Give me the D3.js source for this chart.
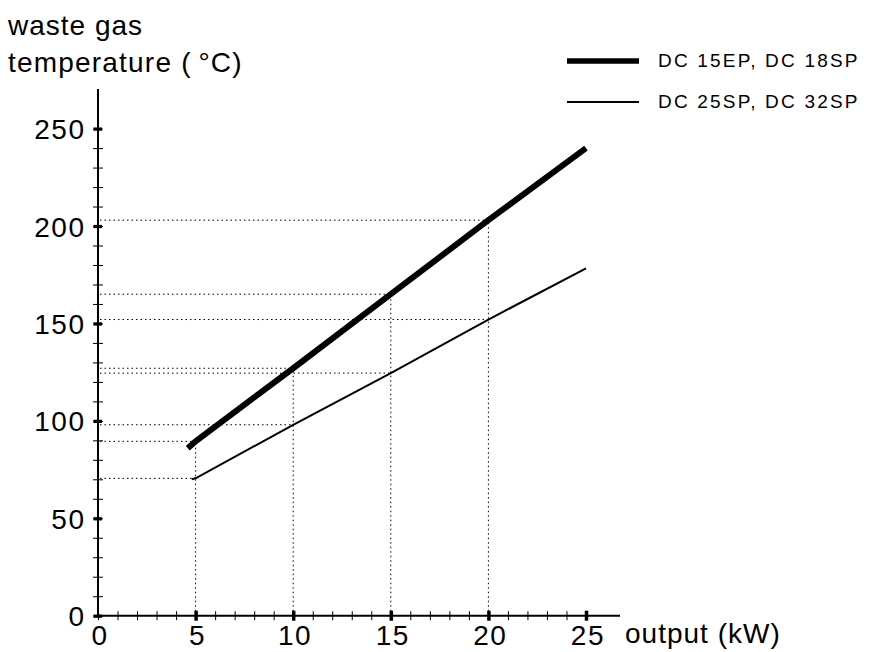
<!DOCTYPE html>
<meta charset="utf-8">
<style>
body { margin: 0; background: #fff; }
text { font-family: 'Liberation Sans', Arial, Helvetica, sans-serif; fill: #000; }
.tick text { font-size: 28px; letter-spacing: 1.5px; }
.dots { stroke: #000; stroke-width: 1; stroke-dasharray: 1.5,3; fill: none; }
</style>
<body>
<svg width="875" height="652"></svg>
<script src="https://d3js.org/d3.v7.min.js"></script>
<script>

// readings at 5, 10, 15, 20 kW
var outputs = [5, 10, 15, 20];
var thickTemps = [89.5, 127, 165, 203];
var thinTemps = [70.5, 98, 124.5, 152];

// full lines (start, readings, end)
var thickLine = [[4.6, 86], [5, 89.5], [10, 127], [15, 165], [20, 203], [25, 240]];
var thinLine = [[4.8, 70], [5, 70.5], [10, 98], [15, 124.5], [20, 152], [25, 178.3]];

var seriesNames = ["DC 15EP, DC 18SP", "DC 25SP, DC 32SP"];
var xTicks = [0, 5, 10, 15, 20, 25];
var yTicks = [0, 50, 100, 150, 200, 250];

var svg = d3.select("svg");

var x = d3.scaleLinear().domain([0, 25]).range([98, 586]),
    y = d3.scaleLinear().domain([0, 250]).range([615.7, 128.6]);

// dotted guide lines
var guides = svg.append("g");
[thickTemps, thinTemps].forEach(function(temps) {
  temps.forEach(function(t, i) {
    guides.append("line").attr("class", "dots")
      .attr("x1", x(0) + 2).attr("x2", x(outputs[i]))
      .attr("y1", y(t)).attr("y2", y(t));
  });
});
outputs.forEach(function(o, i) {
  guides.append("line").attr("class", "dots")
    .attr("x1", x(o)).attr("x2", x(o))
    .attr("y1", y(0)).attr("y2", y(thickTemps[i]));
});

// axes
var yAxisMinor = svg.append("g")
    .attr("transform", "translate(" + x(0) + ",0)")
    .call(d3.axisLeft(y).tickValues(d3.range(0, 251, 10)).tickSize(5).tickFormat(""));
yAxisMinor.select(".domain").remove();
yAxisMinor.selectAll(".tick line").attr("x1", 5).attr("stroke-width", 1);

var yAxis = svg.append("g")
    .attr("transform", "translate(" + x(0) + ",0)")
    .call(d3.axisLeft(y).tickValues(yTicks).tickSize(4.5).tickPadding(8));
yAxis.select(".domain").remove();
yAxis.selectAll(".tick line").attr("x1", 4).attr("stroke-width", 3.3);
yAxis.selectAll(".tick text").attr("dy", "0.36em");

var xAxisMinor = svg.append("g")
    .attr("transform", "translate(0," + y(0) + ")")
    .call(d3.axisBottom(x).tickValues(d3.range(0, 26, 1)).tickSize(4.5).tickFormat(""));
xAxisMinor.select(".domain").remove();
xAxisMinor.selectAll(".tick line").attr("y1", -4.5).attr("stroke-width", 1);

var xAxis = svg.append("g")
    .attr("transform", "translate(0," + y(0) + ")")
    .call(d3.axisBottom(x).tickValues(xTicks).tickSize(5).tickPadding(4));
xAxis.select(".domain").remove();
xAxis.selectAll(".tick line").attr("y1", -5).attr("stroke-width", 3.5)
  .filter(function(d) { return d === 0; }).remove();
xAxis.selectAll(".tick text").attr("dx", "0.05em");

// axis lines
svg.append("line").attr("x1", x(0)).attr("x2", x(0))
  .attr("y1", 89).attr("y2", y(0) + 0.75)
  .attr("stroke", "#000").attr("stroke-width", 2);
svg.append("line").attr("x1", x(0)).attr("x2", 620)
  .attr("y1", y(0)).attr("y2", y(0))
  .attr("stroke", "#000").attr("stroke-width", 2);

// data lines
var line = d3.line().x(d => x(d[0])).y(d => y(d[1]));
svg.append("path").datum(thickLine).attr("d", line)
  .attr("fill", "none").attr("stroke", "#000").attr("stroke-width", 6);
svg.append("path").datum(thinLine).attr("d", line)
  .attr("fill", "none").attr("stroke", "#000").attr("stroke-width", 2);

// titles
svg.append("text").attr("x", 8).attr("y", 35)
  .style("font-size", "28px").style("letter-spacing", "1px").text("waste gas");
svg.append("text").attr("x", 8).attr("y", 72)
  .style("font-size", "28px").style("letter-spacing", "1.2px").text("temperature (\u2009\u00B0C)");
svg.append("text").attr("x", 625).attr("y", 643)
  .style("font-size", "28px").style("letter-spacing", "1px").text("output (kW)");

// legend
var legend = svg.append("g");
[5.5, 2].forEach(function(w, i) {
  var ly = 61 + i * 41;
  legend.append("line").attr("x1", 567).attr("x2", 639)
    .attr("y1", ly).attr("y2", ly)
    .attr("stroke", "#000").attr("stroke-width", w);
  legend.append("text").attr("x", 658).attr("y", ly + 6)
    .style("font-size", "19px").style("letter-spacing", "2.2px")
    .text(seriesNames[i]);
});

</script>
</body>
